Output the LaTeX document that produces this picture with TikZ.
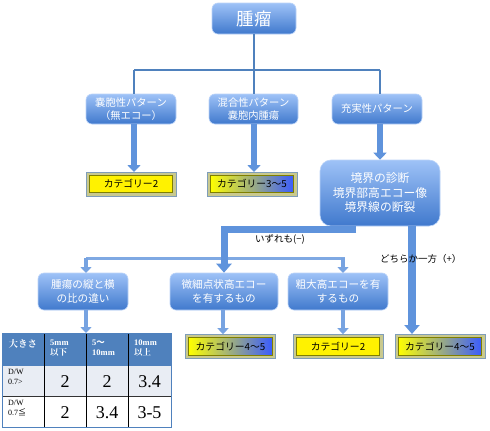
\documentclass[tikz,border=0pt]{standalone}
\usepackage{fontspec}
\setmainfont{Liberation Serif}
\newfontfamily\jp{Noto Sans CJK JP}
\newfontfamily\jps{Noto Serif CJK JP}
\usetikzlibrary{arrows.meta,calc}
\definecolor{lnblue}{HTML}{4F81BD}
\definecolor{boxtop}{HTML}{9EC2F7}
\definecolor{boxbot}{HTML}{4079CD}
\definecolor{arrc}{HTML}{5F93DC}
\definecolor{catout}{HTML}{C9C98E}
\definecolor{catbrd}{HTML}{7F9DB9}
\definecolor{catin}{HTML}{7F7F00}
\definecolor{catblue}{HTML}{3A5CFF}
\definecolor{rowa}{HTML}{E9EDF4}
\begin{document}
\begin{tikzpicture}[x=1pt,y=-1pt,
  bbox/.style={draw=boxtop!70!white,line width=0.6pt,rounded corners=6pt,top color=boxtop,bottom color=boxbot,
     text=white,font=\jp\fontsize{10.3}{12.5}\selectfont,align=center,inner sep=0pt},
  thinln/.style={draw=lnblue,line width=2pt},
  thk/.style={draw=arrc,line width=6pt,-{Triangle[width=13pt,length=7pt]}},
  thks/.style={draw=arrc!85!white,line width=4.5pt,-{Triangle[width=11pt,length=6pt]}},
  catbox/.style={draw=catbrd,fill=catout,line width=0.6pt,minimum width=90pt,minimum height=24pt,inner sep=0pt},
  cattxt/.style={font=\jp\fontsize{9.8}{11}\selectfont,text=black},
  lbl/.style={font=\jp\fontsize{9.5}{11}\selectfont,text=black,inner sep=0pt},
  hd/.style={text=white,font=\bfseries\fontsize{8.5}{10}\selectfont,align=left,inner sep=0pt},
  num/.style={font=\fontsize{18}{20}\selectfont,inner sep=0pt},
  dw/.style={font=\fontsize{8}{10}\selectfont,align=left,inner sep=0pt}
]
\useasboundingbox (0,0) rectangle (490,431);
\fill[white] (0,0) rectangle (490,431);

% top
\node[bbox,minimum width=84pt,minimum height=31pt,font=\jp\fontsize{17.5}{19}\selectfont] (top) at (254,18.5) {腫瘤};
\node[bbox,minimum width=90pt,minimum height=30pt] (p1) at (131,109) {嚢胞性パターン\\（無エコー）};
\node[bbox,minimum width=89pt,minimum height=30pt] (p2) at (253.5,109) {混合性パターン\\嚢胞内腫瘍};
\node[bbox,minimum width=90pt,minimum height=30pt] (p3) at (377,109) {充実性パターン};

\coordinate (hj) at (254,70);
\draw[thinln] (top.south) -- (hj);
\draw[thinln] (134,70) -- (380,70);
\draw[thinln] (134,70) -- (134,94);
\draw[thinln] (hj) -- (254,94);
\draw[thinln] (380,70) -- (380,94);

% category boxes level 2
\node[catbox] (c1) at (131,184) {};
\draw[catin,fill=yellow,line width=0.8pt] ([shift={(3.5,3.5)}]c1.north west) rectangle ([shift={(-3.5,-3.5)}]c1.south east);
\node[cattxt] (c1t) at (c1.center) {カテゴリー2};

\node[catbox] (c2) at (252,184) {};
\draw[catin,left color=yellow,middle color=rowa!60!yellow!40!white,right color=catblue,line width=0.8pt] ([shift={(3.5,3.5)}]c2.north west) rectangle ([shift={(-3.5,-3.5)}]c2.south east);
\node[cattxt] (c2t) at (c2.center) {カテゴリー3〜5};

\draw[thk] (134,124) -- (134,172);
\draw[thk] (254,124) -- (254,172);

% big box
\node[bbox,minimum width=120pt,minimum height=66pt,rounded corners=11pt,font=\jp\fontsize{11.8}{14.5}\selectfont] (bd) at (380,193) {境界の診断\\境界部高エコー像\\境界線の断裂};
\draw[thk] (380,124) -- (bd.north -| 380,0);

% level 3 boxes
\node[bbox,minimum width=90pt,minimum height=37pt,font=\jp\fontsize{10.6}{13.5}\selectfont] (A) at (83,291.5) {腫瘍の縦と横\\の比の違い};
\node[bbox,minimum width=108pt,minimum height=37pt,font=\jp\fontsize{10.6}{13.5}\selectfont] (B) at (224,291.5) {微細点状高エコー\\を有するもの};
\node[bbox,minimum width=100pt,minimum height=37pt,font=\jp\fontsize{10.6}{13.5}\selectfont] (C) at (338,291.5) {粗大高エコーを有\\するもの};

% connectors from big box
\coordinate (bl) at (356,229.5);
\draw[thinln,draw=arrc!80!white,line width=3pt] (86,258) -- (345,258);
\draw[thks] (86,258) -- (86,273);
\draw[thks] (343,258) -- (343,273);
\draw[draw=arrc,line width=7pt,-{Triangle[width=15pt,length=9pt]}] (bl) -| (B.north);
\draw[draw=arrc,line width=8pt,-{Triangle[width=15pt,length=9pt]}] (bd.south -| 412,0) -- (412,334);

\node[lbl,anchor=west] (l1) at (255,239.5) {いずれも(−)};
\node[lbl,anchor=west] (l2) at (380,258.5) {どちらか一方（+）};

% bottom category boxes
\node[catbox] (c3) at (230.5,346.5) {};
\draw[catin,left color=yellow,middle color=rowa!60!yellow!40!white,right color=catblue,line width=0.8pt] ([shift={(3.5,3.5)}]c3.north west) rectangle ([shift={(-3.5,-3.5)}]c3.south east);
\node[cattxt] (c3t) at (c3.center) {カテゴリー4〜5};

\node[catbox] (c4) at (338,346.5) {};
\draw[catin,fill=yellow,line width=0.8pt] ([shift={(3.5,3.5)}]c4.north west) rectangle ([shift={(-3.5,-3.5)}]c4.south east);
\node[cattxt] (c4t) at (c4.center) {カテゴリー2};

\node[catbox] (c5) at (440,346.5) {};
\draw[catin,left color=yellow,middle color=rowa!60!yellow!40!white,right color=catblue,line width=0.8pt] ([shift={(3.5,3.5)}]c5.north west) rectangle ([shift={(-3.5,-3.5)}]c5.south east);
\node[cattxt] (c5t) at (c5.center) {カテゴリー4〜5};

\draw[thks] (B.south -| 223,0) -- (c3.north -| 223,0);
\draw[thks] (C.south -| 343,0) -- (c4.north -| 343,0);
\draw[thks] (A.south -| 86,0) -- (86,333);

% table
\fill[lnblue] (2,333) rectangle (171,365);
\fill[rowa] (2,365) rectangle (171,396);
\fill[white] (2,396) rectangle (171,427);
\draw[lnblue,line width=0.8pt] (2,365) -- (171,365);
\draw[black!80,line width=0.6pt] (2,396) -- (171,396);
\foreach \x in {44,86,128} \draw[black,line width=0.7pt] (\x,333) -- (\x,427);
\draw[lnblue,line width=0.9pt] (2,333) rectangle (171,427);

\node[text=white,font=\jps\bfseries\fontsize{9.5}{11}\selectfont,inner sep=0pt] (h0) at (23,344) {大きさ};
\node[hd,anchor=north west] (h1) at (50,340) {5mm\\\jps 以下};
\node[hd,anchor=north west] (h2) at (92,340) {5{\jp 〜}\\10mm};
\node[hd,anchor=north west] (h3) at (134,340) {10mm\\\jps 以上};

\node[dw,anchor=north west] (r1) at (8,369) {D/W\\0.7>};
\node[dw,anchor=north west] (r2) at (8,400) {D/W\\0.7{\jp ≦}};
\node[num] (n11) at (65,382) {2};
\node[num] (n12) at (107,382) {2};
\node[num] (n13) at (149.5,382) {3.4};
\node[num] (n21) at (65,413) {2};
\node[num] (n22) at (107,413) {3.4};
\node[num] (n23) at (149.5,413) {3-5};
\end{tikzpicture}
\end{document}
